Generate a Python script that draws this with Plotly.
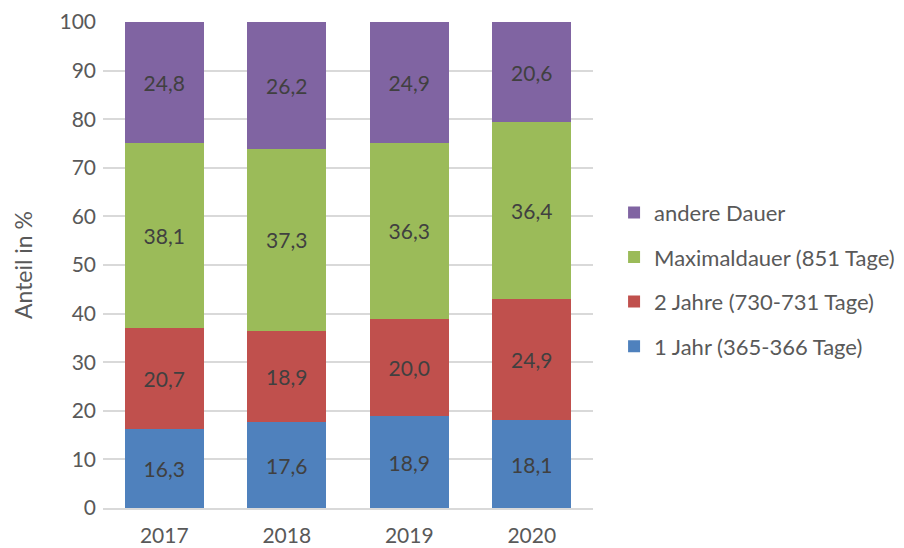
import plotly.graph_objects as go

years = ["2017", "2018", "2019", "2020"]
series_names = [
    "1 Jahr (365-366 Tage)",
    "2 Jahre (730-731 Tage)",
    "Maximaldauer (851 Tage)",
    "andere Dauer",
]
ein_jahr = [16.3, 17.6, 18.9, 18.1]
zwei_jahre = [20.7, 18.9, 20.0, 24.9]
maximaldauer = [38.1, 37.3, 36.3, 36.4]
andere = [24.8, 26.2, 24.9, 20.6]

colors = ["#4F81BD", "#C0504D", "#9BBB59", "#8064A2"]

fig = go.Figure()
series = [ein_jahr, zwei_jahre, maximaldauer, andere]
for i, (name, vals, col) in enumerate(zip(series_names, series, colors)):
    fig.add_trace(go.Bar(
        x=years, y=vals, name=name, legendgroup=name,
        legendrank=len(series_names) - i,
        marker=dict(color=col, line=dict(width=0)),
        texttemplate="%{y:.1f}", textposition="inside",
        insidetextanchor="middle",
        textfont=dict(size=21, color="#404040"),
        hoverinfo="skip",
    ))

# the page body adds an 8px offset, margins are reduced to compensate
fig.update_layout(
    barmode="stack",
    bargap=0.355,
    separators=",.",
    width=904, height=548,
    margin=dict(l=95, r=319, t=14, b=48, autoexpand=False),
    paper_bgcolor="white", plot_bgcolor="white",
    font=dict(family="Lato", size=21, color="#595959"),
    showlegend=True,
    legend=dict(
        traceorder="grouped", x=1.043, xanchor="left", y=0.651, yanchor="top",
        font=dict(size=22, color="#595959"), tracegroupgap=13,
        itemwidth=30,
    ),
    yaxis=dict(
        range=[0, 100], dtick=10, showgrid=True, gridcolor="#D9D9D9", gridwidth=1.5,
        zeroline=False, showline=False, ticks="", ticklabelstandoff=6,
        automargin=False,
        title=dict(text="Anteil in %", standoff=20, font=dict(size=23, color="#595959")),
        tickfont=dict(size=21, color="#595959"),
    ),
    xaxis=dict(
        showline=True, linecolor="#D9D9D9", linewidth=1.5, ticks="",
        ticklabelstandoff=8, automargin=False,
        tickfont=dict(size=21, color="#595959"),
    ),
    uniformtext=dict(minsize=18, mode="show"),
)

fig.write_html("out.html")
